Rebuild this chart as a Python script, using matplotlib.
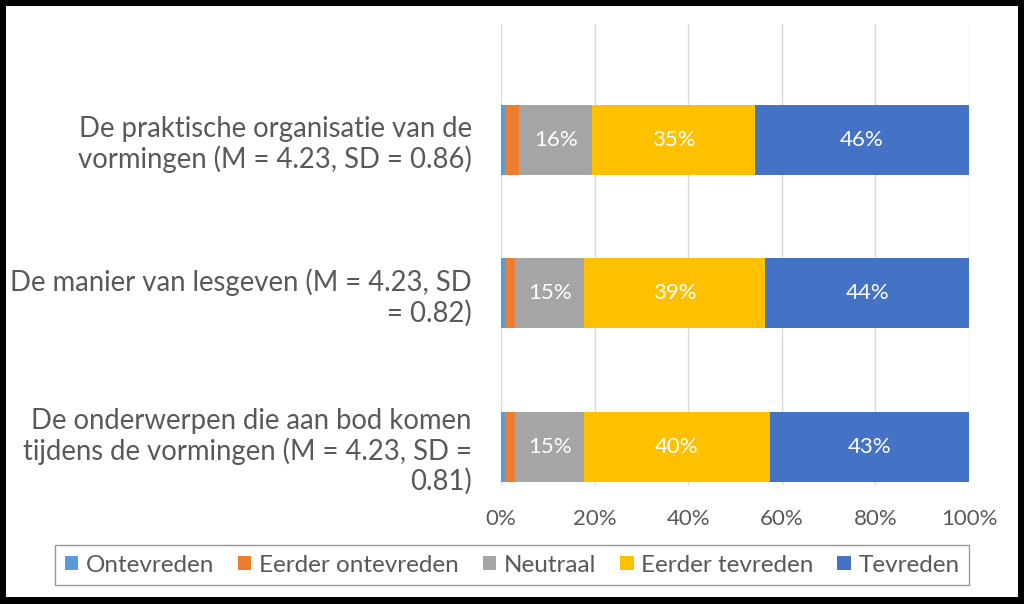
import numpy as np
import matplotlib.pyplot as plt
from matplotlib.patches import Rectangle

# categories, top to bottom
categories = [
    'De praktische organisatie van de\nvormingen (M = 4.23, SD = 0.86)',
    'De manier van lesgeven (M = 4.23, SD\n= 0.82)',
    'De onderwerpen die aan bod komen\ntijdens de vormingen (M = 4.23, SD =\n0.81)',
]
series_names = ['Ontevreden', 'Eerder ontevreden', 'Neutraal', 'Eerder tevreden', 'Tevreden']
ontevreden = [0.85, 0.9, 0.9]
eerder_ontevreden = [3.05, 2.1, 2.1]
neutraal = [15.6, 14.8, 14.8]
eerder_tevreden = [34.8, 38.7, 39.6]
tevreden = [45.7, 43.5, 42.6]
tick_labels = ['0%', '20%', '40%', '60%', '80%', '100%']

colors = ['#5B9BD5', '#ED7D31', '#A5A5A5', '#FFC000', '#4472C4']
text_gray = '#595959'
plt.rcParams['font.family'] = ['Lato', 'DejaVu Sans']

fig = plt.figure(figsize=(10.24, 6.04), dpi=100, facecolor='black')
# white panel inside the black frame
fig.patches.append(Rectangle((6 / 1024, 7 / 604), 1012 / 1024, 591 / 604,
                             transform=fig.transFigure, facecolor='white',
                             edgecolor='none', zorder=-1))

ax = fig.add_axes([501 / 1024, 1 - 485 / 604, 468 / 1024, 461 / 604])
ax.set_facecolor('white')
ax.set_zorder(1)

data = [ontevreden, eerder_ontevreden, neutraal, eerder_tevreden, tevreden]
y = np.arange(len(categories))
left = np.zeros(len(categories))
for i, (name, vals) in enumerate(zip(series_names, data)):
    vals = np.array(vals)
    bars = ax.barh(y, vals, left=left, height=0.456, color=colors[i], label=name, zorder=3)
    if i >= 2:
        for b, v in zip(bars, vals):
            ax.text(b.get_x() + b.get_width() / 2, b.get_y() + b.get_height() / 2,
                    f'{v:.0f}%', ha='center', va='center', color='white',
                    fontsize=16, zorder=4)
    left += vals

ax.set_xlim(0, 100)
ax.set_ylim(2.248, -0.756)
ax.set_xticks(np.arange(0, 101, 20))
ax.set_xticklabels(tick_labels, fontsize=16, color=text_gray)
ax.set_yticks(y)
ax.set_yticklabels(categories, fontsize=19.8, color=text_gray, linespacing=1.15)
ax.tick_params(axis='both', length=0)
ax.tick_params(axis='y', pad=21)
ax.tick_params(axis='x', pad=17)
ax.grid(axis='x', color='#D9D9D9', linewidth=1, zorder=0)
for s in ax.spines.values():
    s.set_visible(False)

leg = fig.legend(loc='center', bbox_to_anchor=(512 / 1024, 1 - 565 / 604), ncol=5,
                 fontsize=17.5, frameon=True, fancybox=False, edgecolor='#7F7F7F',
                 handlelength=0.55, handleheight=0.55, handletextpad=0.3,
                 columnspacing=1.0, borderpad=0.4)
for t in leg.get_texts():
    t.set_color(text_gray)
leg.get_frame().set_linewidth(1)
leg.set_zorder(2)

fig.savefig('out.png', dpi=100, facecolor='black')
